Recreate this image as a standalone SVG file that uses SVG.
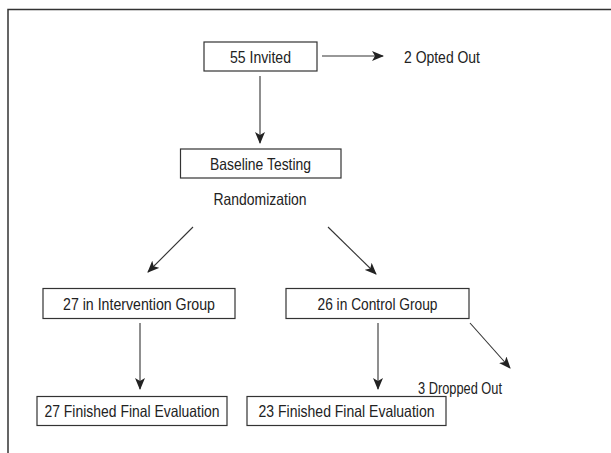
<svg xmlns="http://www.w3.org/2000/svg" width="611" height="453" viewBox="0 0 611 453">
<style>
.box{fill:#fff;stroke:#333;stroke-width:1.2}
.t{font-family:"Liberation Sans",Arial,sans-serif;font-size:16.5px;fill:#222;text-anchor:middle;dominant-baseline:central}
.c line{stroke:#333;stroke-width:1.1;marker-end:url(#ah)}
</style>
<defs>
<marker id="ah" viewBox="0 0 12 10" refX="11" refY="5" markerWidth="12" markerHeight="10" markerUnits="userSpaceOnUse" orient="auto">
<path d="M0,0 L12,5 L0,10 L3,5 Z" fill="#222"/>
</marker>
</defs>
<rect width="611" height="453" fill="#fff"/>
<path d="M8,460 L8,9.5 L620,9.5" fill="none" stroke="#333" stroke-width="1.5"/>
<g class="c">
<line x1="322" y1="56" x2="383" y2="56"/>
<line x1="260" y1="76" x2="260" y2="143"/>
<line x1="193" y1="227" x2="148" y2="272"/>
<line x1="328" y1="227" x2="376" y2="274"/>
<line x1="140" y1="323" x2="140" y2="389"/>
<line x1="378" y1="323" x2="378" y2="389"/>
<line x1="470" y1="323" x2="510" y2="368"/>
</g>
<g id="invited"><rect class="box" x="204" y="42" width="113" height="29"/><text class="t" x="260.5" y="56.5" textLength="61" lengthAdjust="spacingAndGlyphs">55 Invited</text></g>
<g id="opted"><text class="t" x="404" y="56.5" style="text-anchor:start" textLength="76" lengthAdjust="spacingAndGlyphs">2 Opted Out</text></g>
<g id="baseline"><rect class="box" x="180.5" y="149" width="160.5" height="29"/><text class="t" x="260.5" y="163.5" textLength="101" lengthAdjust="spacingAndGlyphs">Baseline Testing</text></g>
<g id="random"><text class="t" x="260" y="199" textLength="93" lengthAdjust="spacingAndGlyphs">Randomization</text></g>
<g id="intervention"><rect class="box" x="43" y="288.5" width="192" height="30"/><text class="t" x="139" y="303.5" textLength="152" lengthAdjust="spacingAndGlyphs">27 in Intervention Group</text></g>
<g id="control"><rect class="box" x="286" y="288.5" width="183" height="30"/><text class="t" x="377.5" y="303.5" textLength="120" lengthAdjust="spacingAndGlyphs">26 in Control Group</text></g>
<g id="dropped"><text class="t" x="460" y="388" textLength="84" lengthAdjust="spacingAndGlyphs">3 Dropped Out</text></g>
<g id="final1"><rect class="box" x="37" y="396.5" width="190" height="29"/><text class="t" x="132" y="411" textLength="175" lengthAdjust="spacingAndGlyphs">27 Finished Final Evaluation</text></g>
<g id="final2"><rect class="box" x="247" y="396.5" width="199" height="29"/><text class="t" x="346.5" y="411" textLength="176" lengthAdjust="spacingAndGlyphs">23 Finished Final Evaluation</text></g>
</svg>
